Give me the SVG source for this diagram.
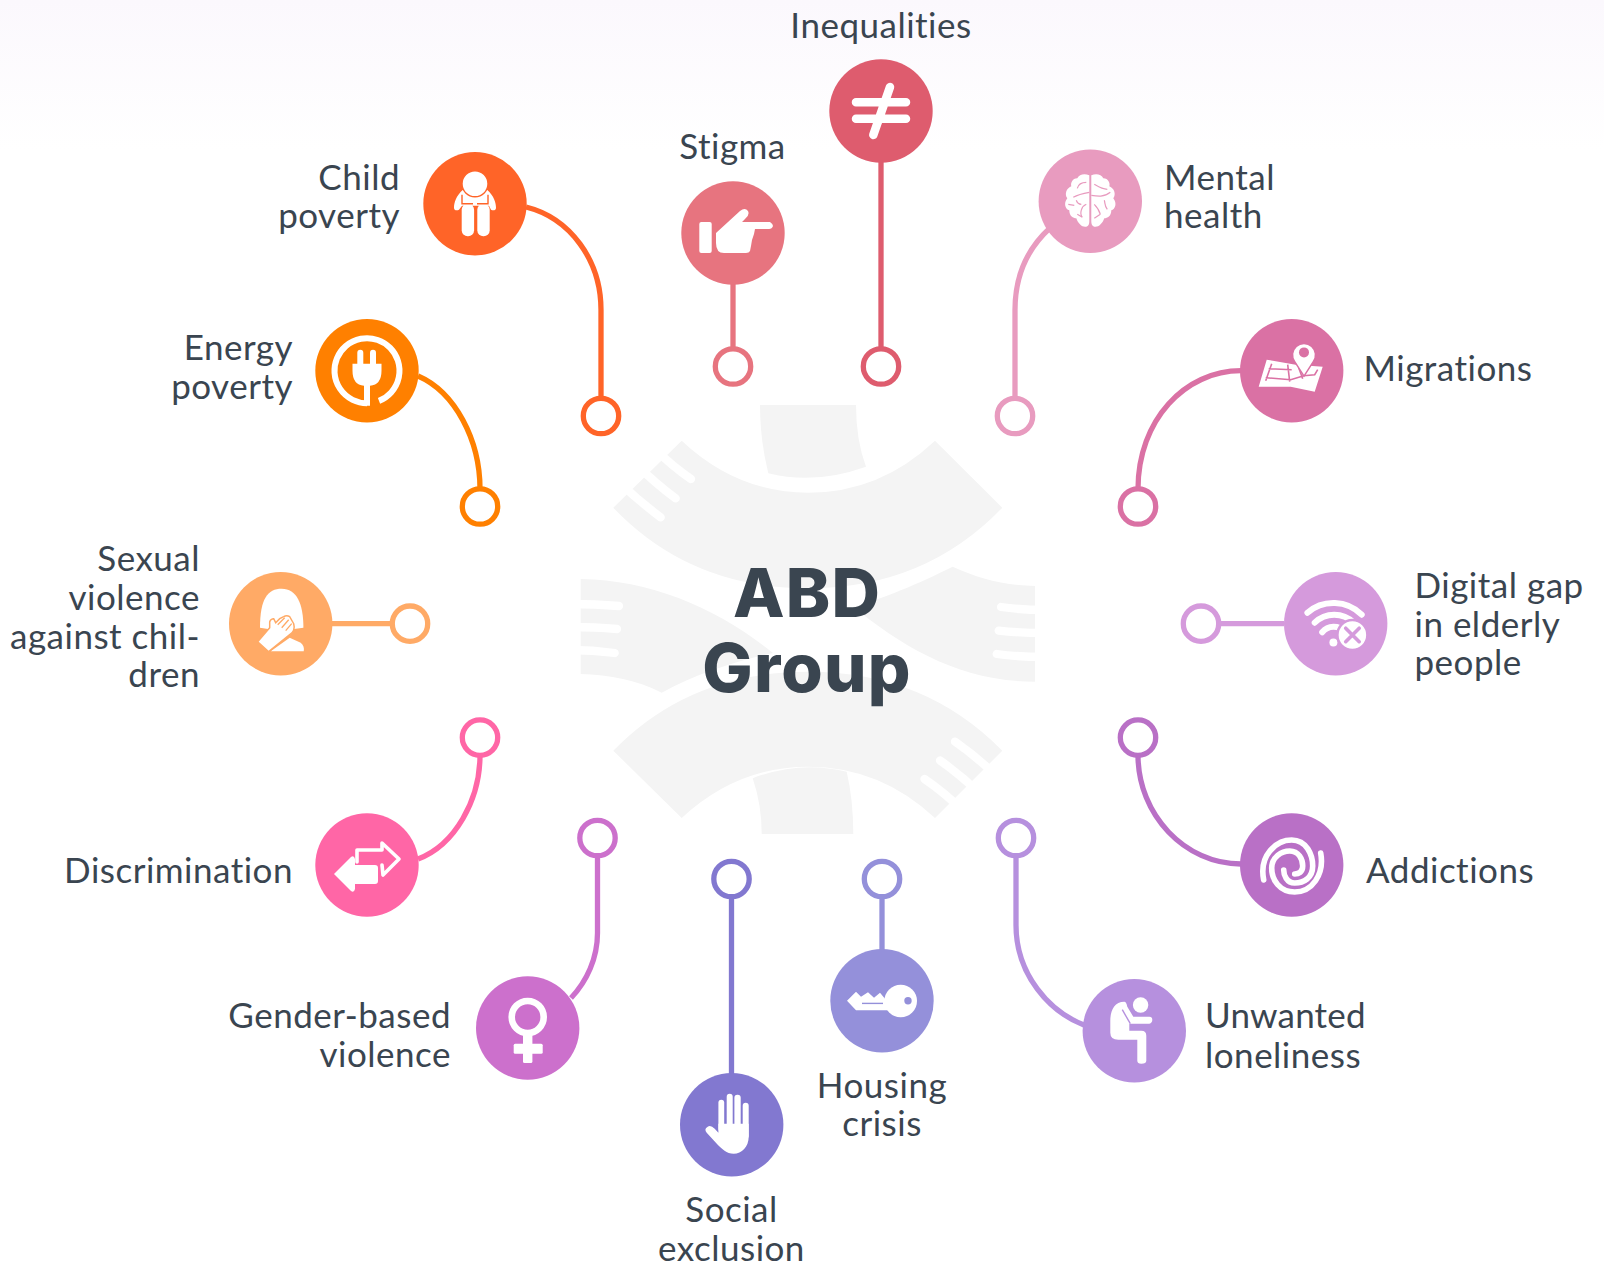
<svg xmlns="http://www.w3.org/2000/svg" width="1604" height="1263" viewBox="0 0 1604 1263">
<style>
text{font-family:"Lato","Liberation Sans",sans-serif;font-size:35px;letter-spacing:.5px;fill:#3a4550}
.e{text-anchor:end}.m{text-anchor:middle}
.title{font-family:"Inter","Liberation Sans",sans-serif;font-weight:800;font-size:67px;letter-spacing:1.2px;text-anchor:middle;fill:#3a4550}
.c{fill:none;stroke-width:5.3}
.r{fill:#fff;stroke-width:5.3}
.w{fill:#fff}
.l{fill:none;stroke:#fff;stroke-linecap:round;stroke-linejoin:round}
.f{fill:none;stroke:#fff;stroke-width:8.3;stroke-linecap:round}
.bg{fill:#f4f4f4}
</style>
<defs>
<linearGradient id="top" x1="0" y1="0" x2="0" y2="1"><stop offset="0" stop-color="#fbf8fd"/><stop offset="1" stop-color="#fff"/></linearGradient>
</defs>
<rect width="1604" height="1263" fill="#fff"/>
<rect width="1604" height="150" fill="url(#top)"/>
<g id="emblem">
<path class="bg" d="M760,405 L856,405 Q856,440 866,466.7 Q815,485 768.3,473.3 Q760,440 760,405Z"/>
<path class="bg" d="M681.7,440.7 Q737,492.7 808.3,492.7 Q880,492.7 935,440.7 L1002.3,507.7 Q925,588.3 808.3,588.3 Q690,588.3 613.3,507.7Z"/>
<path class="f" d="M655,449 Q672,466 691,479 M638,466 Q656,484 675.7,498.3 M620,483 Q640,502 660.7,517.3"/>
<path class="bg" d="M761.7,834 L853.3,834 Q853.3,800 846.7,771.7 Q800,760 752.7,778.3 Q761.7,805 761.7,834Z"/>
<path class="bg" d="M613.3,750.7 Q690,671.7 808.3,671.7 Q925,671.7 1002.3,750.7 L935,818 Q880,766.7 808.3,766.7 Q737,766.7 681.7,818Z"/>
<path class="f" d="M962.5,810.5 Q945,793 924.5,779 M979.5,793.5 Q961,775 940,760.5 M997,776.5 Q977,757 955,741.7"/>
<path class="bg" d="M580.7,579 C653,580 720,610 773,653 C740,660 697,673 661.7,692.7 C637,680 610,675 580.7,674Z"/>
<path class="f" d="M570,604 Q595,604 619,606 M570,627 Q595,627 617,629 M570,650 Q593,650 614.7,653"/>
<path class="bg" d="M952.7,566.7 C977,578 1007,586 1035,586 L1035,681.7 C960,681.7 903,647 853.3,606.7 C880,600 920,583 952.7,566.7Z"/>
<path class="f" d="M1045,610 Q1022,610 1001,607 M1045,633 Q1020,633 998.7,630.7 M1045,657 Q1018,657 996.7,654"/>
</g>
<text class="title" x="807" y="617">ABD</text>
<text class="title" x="807" y="692">Group</text>
<g id="connectors">
<path class="c" stroke="#ff6428" d="M526,207 C570,218 601,260 601,310 L601,398"/>
<circle class="r" stroke="#ff6428" cx="601" cy="416" r="17.7"/>
<path class="c" stroke="#ff8000" d="M418,376 C455,392 480,440 480,489"/>
<circle class="r" stroke="#ff8000" cx="480" cy="506.5" r="17.7"/>
<path class="c" stroke="#ffaa66" d="M332,623.7 L392,623.7"/>
<circle class="r" stroke="#ffaa66" cx="410" cy="623.7" r="17.7"/>
<path class="c" stroke="#ff66a6" d="M480,755 C480,800 455,845 418,859"/>
<circle class="r" stroke="#ff66a6" cx="480" cy="737.6" r="17.7"/>
<path class="c" stroke="#cc70cc" d="M597.5,855 L597.5,933 C597.5,958 587,981 571,998"/>
<circle class="r" stroke="#cc70cc" cx="597.5" cy="838" r="17.7"/>
<path class="c" stroke="#8278d0" d="M731.5,897 L731.5,1074"/>
<circle class="r" stroke="#8278d0" cx="731.5" cy="879" r="17.7"/>
<path class="c" stroke="#9490da" d="M882,897 L882,950"/>
<circle class="r" stroke="#9490da" cx="882" cy="879" r="17.7"/>
<path class="c" stroke="#b690de" d="M1016,855 L1016,925 C1016,975 1050,1012 1084,1025"/>
<circle class="r" stroke="#b690de" cx="1016" cy="838" r="17.7"/>
<path class="c" stroke="#b970c6" d="M1138,755 C1138,815 1185,864 1241,864"/>
<circle class="r" stroke="#b970c6" cx="1138" cy="737.6" r="17.7"/>
<path class="c" stroke="#d59adc" d="M1219,623.7 L1284,623.7"/>
<circle class="r" stroke="#d59adc" cx="1201" cy="623.7" r="17.7"/>
<path class="c" stroke="#da71a4" d="M1241,370.7 C1185,370.7 1138,420 1138,489"/>
<circle class="r" stroke="#da71a4" cx="1138" cy="506.5" r="17.7"/>
<path class="c" stroke="#e89bbf" d="M1050,228 C1028,248 1015,276 1015,310 L1015,398"/>
<circle class="r" stroke="#e89bbf" cx="1015" cy="416" r="17.7"/>
<path class="c" stroke="#de5c6e" d="M881,160 L881,348"/>
<circle class="r" stroke="#de5c6e" cx="881" cy="366.5" r="17.7"/>
<path class="c" stroke="#e7747f" d="M733,282 L733,348"/>
<circle class="r" stroke="#e7747f" cx="733" cy="366.5" r="17.7"/>
</g>
<g id="child-poverty">
<circle cx="475" cy="203.7" r="51.7" fill="#ff6428"/>
<g transform="translate(475,203.7)">
<path class="w" d="M-12,-14 C-19,-8 -21,-1 -21,4 C-21,7 -18,7 -16,6 L-13,2 L-1,2 L2,2 L14,2 L16,6 C18,7 21,7 21,4 C21,-1 19,-8 12,-14Z"/>
<rect class="w" x="-13.3" y="0" width="12.4" height="32.5" rx="6"/>
<rect class="w" x="2.3" y="0" width="12.4" height="32.5" rx="6"/>
<path d="M-13,-9 L-13,0 L-2,0 M13,-9 L13,0 L2,0" fill="none" stroke="#ff6428" stroke-width="1.4"/>
<circle class="w" cx="0" cy="-20" r="13" stroke="#ff6428" stroke-width="1.4"/>
</g>
<text class="e" x="400" y="190">Child</text>
<text class="e" x="400" y="228">poverty</text>
</g>
<g id="energy-poverty">
<circle cx="367" cy="370.7" r="51.7" fill="#ff8000"/>
<g transform="translate(367,370.7)">
<path class="l" stroke-width="6" style="stroke-linecap:butt" d="M0,32.5 A32.5,32.5 0 1 1 12,30.2"/>
<rect class="w" x="-9.7" y="-21" width="6" height="18" rx="3"/>
<rect class="w" x="3" y="-21" width="6" height="18" rx="3"/>
<path class="w" d="M-14.5,-7 L14.5,-7 L14.5,0 Q14.5,14 3,15 L3,35 L-3,35 L-3,15 Q-14.5,14 -14.5,0Z"/>
</g>
<text class="e" x="293" y="360">Energy</text>
<text class="e" x="293" y="399">poverty</text>
</g>
<g id="sexual-violence">
<circle cx="280.7" cy="623.7" r="51.7" fill="#ffaa66"/>
<g transform="translate(280.7,623.7)">
<path class="w" d="M-20.7,4 C-20.7,-25 -13,-35 1,-35 C16,-35 22.7,-20 22.7,4 L8,6 L-8,6Z"/>
<path class="w" d="M-10,27.5 L23,27.5 Q24,22 20,19 L9,14Z"/>
<path class="w" stroke="#ffaa66" stroke-width="1.5" d="M-23,18 L-12,28 L9,11 Q15,7 13,0 L9,-7 Q6,-9 3,-7 L-1,-5 L-5,-1 L-7,-5 Q-10,-5 -11,-2 L-11,4Z"/>
<path d="M-3,1 L4,-6 M1,4 L8,-4 M5,7 L11,0" fill="none" stroke="#ffaa66" stroke-width="1.3"/>
</g>
<text class="e" x="200" y="571">Sexual</text>
<text class="e" x="200" y="610">violence</text>
<text class="e" x="200" y="649">against chil-</text>
<text class="e" x="200" y="687">dren</text>
</g>
<g id="discrimination">
<circle cx="367" cy="865" r="51.7" fill="#ff66a6"/>
<g transform="translate(367,865)">
<path class="w" d="M-33,9 L-16,-8 Q-13,-10 -12,-6 L-12,0 L8,0 Q11,0 11,3 L11,16 Q11,19 8,19 L-12,19 L-12,24 Q-13,28 -16,26Z"/>
<path class="l" stroke-width="3.6" d="M-10,-3 L-10,-15 L15,-15 L15,-22 L32,-6 L16,10 L15,0"/>
</g>
<text class="e" x="293" y="882.5">Discrimination</text>
</g>
<g id="gender-violence">
<circle cx="527.7" cy="1028" r="51.7" fill="#cc70cc"/>
<g transform="translate(527.7,1028)">
<circle cx="0" cy="-11" r="16" fill="none" stroke="#fff" stroke-width="6.6"/>
<rect class="w" x="-4.7" y="6" width="9.4" height="29" rx="1.5"/>
<rect class="w" x="-14" y="15.7" width="29" height="10" rx="1.5"/>
</g>
<text class="e" x="451" y="1027.5">Gender-based</text>
<text class="e" x="451" y="1067">violence</text>
</g>
<g id="social-exclusion">
<circle cx="731.7" cy="1124.7" r="51.7" fill="#8278d0"/>
<g transform="translate(731.7,1124.7)">
<rect class="w" x="-13.3" y="-25" width="5.8" height="32" rx="2.9"/>
<rect class="w" x="-5" y="-31" width="6" height="36" rx="3"/>
<rect class="w" x="2.7" y="-30" width="6.3" height="36" rx="3"/>
<rect class="w" x="11" y="-22" width="6" height="36" rx="3"/>
<path class="w" d="M-13.3,-1 L17,-1 L17,12 C17,22 10,29 2,29 C-5,29 -10,24 -14,20 L-25,8 Q-28,4 -24,2 Q-21,0 -17,4 L-13.3,8Z"/>
</g>
<text class="m" x="731.5" y="1221.5">Social</text>
<text class="m" x="731.5" y="1261">exclusion</text>
</g>
<g id="housing-crisis">
<circle cx="882" cy="1000.7" r="51.7" fill="#9490da"/>
<g transform="translate(882,1000.7)">
<circle class="w" cx="18.7" cy="0.3" r="16.3"/>
<circle cx="26" cy="0" r="3.7" fill="#9490da"/>
<path class="w" d="M-35,0 L-26,-9 L-21,-4 L-14,-8.5 L-8,-3 L-2,-8 L3,-2 L6,-2 L6,9.5 L-26,9.5Z"/>
<path d="M-20,2.7 L1,2.7" stroke="#9490da" stroke-width="1.4"/>
</g>
<text class="m" x="882" y="1097.5">Housing</text>
<text class="m" x="882" y="1136">crisis</text>
</g>
<g id="unwanted-loneliness">
<circle cx="1134.3" cy="1030.7" r="51.7" fill="#b690de"/>
<g transform="translate(1134.3,1030.7)">
<circle class="w" cx="6.3" cy="-25.7" r="7.7"/>
<path class="w" d="M-10,-29 C-20,-29 -24,-20 -24,-10 L-24,2 Q-24,9 -16,9 L3,9 L3,30 Q3,33 7,33 Q12,33 12,30 L12,5 Q12,0 7,0 L-5,0 L-5,-7 L15,-7 Q18,-8 18,-11 Q18,-14 15,-14 L-1,-14 L-7,-24 Q-8,-29 -10,-29Z"/>
<path d="M-12,-21 L-4,-7" stroke="#b690de" stroke-width="1.4"/>
</g>
<text x="1205" y="1028" style="letter-spacing:.2px">Unwanted</text>
<text x="1205" y="1068">loneliness</text>
</g>
<g id="addictions">
<circle cx="1291.7" cy="865" r="51.7" fill="#b970c6"/>
<g transform="translate(1291.7,865)">
<path class="l" stroke-width="5.6" d="M-28,15 C-33,-10 -15,-25 0,-25 C15,-25 21,-10 21,1 C21,13 12,18 3,18 C-5,18 -8,10 -8,5"/>
<path class="l" stroke-width="5.6" d="M29,-12 C33,10 20,27 3,27 C-12,27 -20,15 -20,3 C-20,-8 -10,-14 -2,-14 C7,-14 11,-6 11,1 C11,7 7,9 3,9"/>
</g>
<text x="1366" y="882.5">Addictions</text>
</g>
<g id="digital-gap">
<circle cx="1335.7" cy="623.7" r="51.7" fill="#d59adc"/>
<g transform="translate(1335.7,623.7)">
<circle class="w" cx="-2.3" cy="18.7" r="4"/>
<path class="l" stroke-width="6" d="M-28.3,-11 A40,40 0 0 1 26,-9 M-21,-1 A28,28 0 0 1 18,-1 M-13.5,8.5 A15,15 0 0 1 9,8"/>
<circle class="w" cx="16.7" cy="11.3" r="15" stroke="#d59adc" stroke-width="2.5"/>
<path d="M10,4.5 L23.5,18 M23.5,4.5 L10,18" stroke="#d59adc" stroke-width="3.6" stroke-linecap="round"/>
</g>
<text x="1414.5" y="598">Digital gap</text>
<text x="1414.5" y="637">in elderly</text>
<text x="1414.5" y="675">people</text>
</g>
<g id="migrations">
<circle cx="1291.7" cy="370.7" r="51.7" fill="#da71a4"/>
<g transform="translate(1291.7,370.7)">
<path class="w" d="M-25,-11 L4,-6 L31,-4 L23,21 L-1,16 L-33,16Z"/>
<path d="M-20,-7 L-26,10 M-23,-2 L0,-1 M-26,7 L-1,9 L12,5 L23,4 L26,-1 M-4,-6 L-2,11 M7,-3 L11,8" fill="none" stroke="#da71a4" stroke-width="1.6"/>
<path class="w" stroke="#da71a4" stroke-width="1.5" d="M12.3,5.5 L3,-9 A11.5,11.5 0 1 1 21.6,-9Z"/>
<circle cx="12.3" cy="-18.3" r="5" fill="#da71a4"/>
</g>
<text x="1363.5" y="381">Migrations</text>
</g>
<g id="mental-health">
<circle cx="1090.3" cy="201.3" r="51.7" fill="#e89bbf"/>
<g transform="translate(1090.3,201.3)">
<path class="w" d="M-1,-26 C-6,-28 -11,-27 -13,-23 C-18,-23 -20,-18 -19,-15 C-24,-13 -26,-7 -23,-3 C-27,2 -25,8 -21,9 C-21,15 -17,17 -14,17 C-12,23 -7,27 -3,25 Q-1,24 -1,20Z"/>
<path d="M-4,-19 C-9,-19 -12,-17 -13,-13 M-1,-9 C-7,-8 -12,-7 -17,-4 M-14,-1 C-13,2 -11,3 -9,3 M-4,3 C-9,5 -11,12 -8,16 M-8,16 L-13,13 M-22,3 L-16,4" fill="none" stroke="#e89bbf" stroke-width="1.2"/>
<g transform="scale(-1,1)">
<path class="w" d="M-1,-26 C-6,-28 -11,-27 -13,-23 C-18,-23 -20,-18 -19,-15 C-24,-13 -26,-7 -23,-3 C-27,2 -25,8 -21,9 C-21,15 -17,17 -14,17 C-12,23 -7,27 -3,25 Q-1,24 -1,20Z"/>
<path d="M-4,-17 C-9,-14 -12,-12 -17,-12 M-1,-6 C-7,-5 -14,-4 -20,-9 M-14,-1 C-15,2 -14,4 -17,8 M-4,3 C-7,6 -9,9 -10,13 M-10,13 L-4,17" fill="none" stroke="#e89bbf" stroke-width="1.2"/>
</g>
</g>
<text x="1164" y="190">Mental</text>
<text x="1164" y="228">health</text>
</g>
<g id="inequalities">
<circle cx="881" cy="111" r="51.7" fill="#de5c6e"/>
<g transform="translate(881,111)" stroke="#fff" stroke-width="8.5" stroke-linecap="round">
<path d="M-25,-8.7 L25,-8.7 M-25,7.7 L25,7.7 M9,-24 L-7.7,24"/>
</g>
<text class="m" x="881" y="38">Inequalities</text>
</g>
<g id="stigma">
<circle cx="733" cy="233" r="51.7" fill="#e7747f"/>
<g transform="translate(733,233)">
<rect class="w" x="-33.7" y="-11" width="12.4" height="31" rx="2"/>
<path class="w" d="M-17,0 L7,-22 Q12,-26 15,-22 Q17,-18 12,-14 L9,-11 L37,-11 Q40,-9 40,-7 Q39,-4 36,-4 L22,-4 L21,1 L19,7 L18,13 L17,18 Q16,20 13,20 L-9,20 Q-17,20 -17,10Z"/>
</g>
<text class="m" x="732.5" y="159">Stigma</text>
</g>
</svg>
